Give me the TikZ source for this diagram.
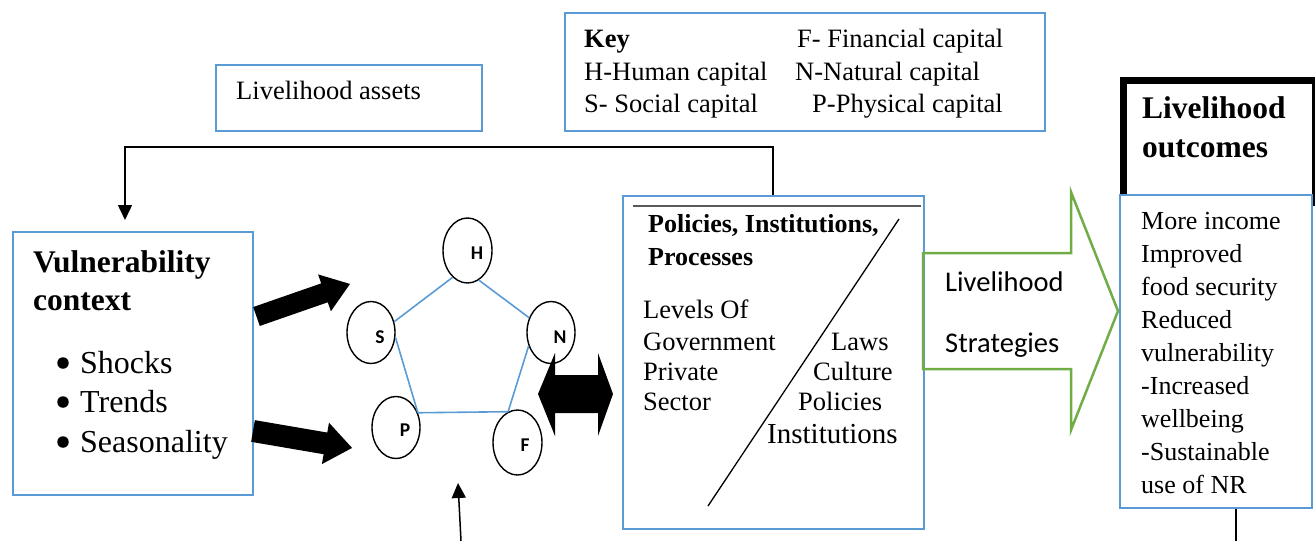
\documentclass[tikz,border=0pt]{standalone}
\usepackage{fontspec}
\setmainfont{Liberation Serif}
\newfontfamily\calibri{Carlito}
\usetikzlibrary{shapes.geometric,arrows.meta}
\definecolor{boxblue}{RGB}{91,155,213}
\definecolor{arrgreen}{RGB}{112,173,71}
\begin{document}
\begin{tikzpicture}[x=1pt,y=-1pt,
  bluebox/.style={draw=boxblue,line width=2pt,fill=white,inner sep=0pt,anchor=north west},
  blackbox/.style={draw=black,line width=7pt,inner sep=0pt,anchor=north west},
  txt/.style={anchor=base west,inner sep=0pt,font=\fontsize{26.5}{30}\selectfont},
  bigbold/.style={anchor=base west,inner sep=0pt,font=\fontsize{31.5}{36}\selectfont\bfseries},
  midbold/.style={anchor=base west,inner sep=0pt,font=\fontsize{26}{30}\selectfont\bfseries},
  bullettxt/.style={anchor=base west,inner sep=0pt,font=\fontsize{32}{36}\selectfont},
  bulletdot/.style={circle,fill=black,inner sep=0pt,minimum size=11.5pt},
  sanstxt/.style={anchor=base west,inner sep=0pt,font=\calibri\fontsize{28.5}{32}\selectfont},
  capnode/.style={draw,ellipse,line width=1.4pt,inner sep=0pt,minimum width=48pt,minimum height=62pt},
  letter/.style={inner sep=0pt,font=\calibri\bfseries\fontsize{19.5}{20}\selectfont},
  pentline/.style={draw=boxblue,line width=1.6pt},
  thinarrow/.style={line width=1.5pt,-{Triangle[length=15pt,width=14pt]}},
  plainline/.style={line width=1.5pt}
]
\useasboundingbox (0,0) rectangle (1315,541);

% boxes
\node[bluebox,minimum width=266pt,minimum height=66pt] (assets) at (215,64) {};
\node[bluebox,minimum width=480pt,minimum height=118pt] (key) at (564,12) {};
\node[bluebox,minimum width=240pt,minimum height=263pt] (vul) at (12,231) {};
\node[bluebox,minimum width=301pt,minimum height=333pt] (pip) at (622,195) {};
\node[blackbox,minimum width=192pt,minimum height=122pt] (title) at (1119.5,76.5) {};
\node[bluebox,minimum width=192pt,minimum height=313pt] (out) at (1119,194) {};

% livelihood assets
\node[txt] (assetstxt) at (236,99) {Livelihood assets};

% key
\node[txt,font=\fontsize{26.5}{30}\selectfont\bfseries] (k0) at (584,47) {Key};
\node[txt] (k1) at (797,47) {F- Financial capital};
\node[txt] (k2) at (584,80) {H-Human capital};
\node[txt] (k3) at (795,80) {N-Natural capital};
\node[txt] (k4) at (584,112) {S- Social capital};
\node[txt] (k5) at (812,112) {P-Physical capital};

% vulnerability
\node[bigbold] (v1) at (33,272) {Vulnerability};
\node[bigbold] (v2) at (33,310) {context};
\foreach \t/\yy [count=\i] in {Shocks/373,Trends/412,Seasonality/452}{
  \node[bulletdot] (vb\i) at (63,\yy-10) {};
  \node[bullettxt] (vt\i) at (80,\yy) {\t};
}

% capitals
\node[capnode,minimum width=49pt,minimum height=65pt] (H) at (467.5,250.5) {};
\node[capnode] (S) at (371,332.5) {};
\node[capnode] (N) at (551,332.5) {};
\node[capnode] (P) at (396,427.5) {};
\node[capnode,minimum width=49pt,minimum height=65pt] (F) at (517.5,442.5) {};
\node[letter] (Hl) at (477,253) {H};
\node[letter] (Sl) at (380,337) {S};
\node[letter] (Nl) at (560,337) {N};
\node[letter] (Pl) at (405,430) {P};
\node[letter] (Fl) at (525,445) {F};
\draw[pentline] (H.241) -- (S.25);
\draw[pentline] (H.291) -- (N.146);
\draw[pentline] (S.349) -- (P.34);
\draw[pentline] (P.34) -- (F.107);
\draw[pentline] (N.211) -- (F.107);

% block arrows from vulnerability
\begin{scope}[shift={(256.5,316.5)},rotate=19.2]
  \fill (0,-10) -- (72,-10) -- (72,-19.5) -- (99,0) -- (72,19.5) -- (72,10) -- (0,10) -- cycle;
\end{scope}
\begin{scope}[shift={(253,431)},rotate=-9.7]
  \fill (0,-11) -- (73.5,-11) -- (73.5,-21) -- (100.5,0) -- (73.5,21) -- (73.5,11) -- (0,11) -- cycle;
\end{scope}

% double block arrow
\fill (538,394) -- (555,353) -- (555,375) -- (598,375) -- (598,353) -- (613,394)
  -- (598,436) -- (598,413) -- (555,413) -- (555,436) -- cycle;

% PIP contents
\draw[draw=black!65,line width=2pt] (633,206) -- (921,206);
\draw[line width=1.3pt] (899,219) -- (708,506);
\node[midbold] (p1) at (648,232) {Policies, Institutions,};
\node[midbold] (p2) at (648,265) {Processes};
\node[txt] (l1) at (643,318) {Levels Of};
\node[txt] (l2) at (643,350) {Government};
\node[txt] (l3) at (643,380) {Private};
\node[txt] (l4) at (643,410) {Sector};
\node[txt] (r1) at (831,350) {Laws};
\node[txt] (r2) at (813,380) {Culture};
\node[txt] (r3) at (798,410) {Policies};
\node[txt,font=\fontsize{29}{32}\selectfont] (r4) at (767,443) {Institutions};

% green strategies arrow
\draw[draw=arrgreen,line width=2.5pt,line join=miter] (923,253) -- (1071,253) -- (1071,192) -- (1118,311)
  -- (1071,430) -- (1071,369) -- (923,369) -- cycle;
\node[sanstxt] (s1) at (945,291) {Livelihood};
\node[sanstxt] (s2) at (945,352) {Strategies};

% outcomes
\node[bigbold] (t1) at (1142,118) {Livelihood};
\node[bigbold] (t2) at (1142,157) {outcomes};
\foreach \t [count=\i] in {More income,Improved,food security,Reduced,vulnerability,-Increased,wellbeing,-Sustainable,use of NR}{
  \node[txt,font=\fontsize{26}{30}\selectfont] (o\i) at (1141,{229+33.1*(\i-1)}) {\t};
}

% connectors
\coordinate (c1) at (773,147);
\coordinate (c2) at (125,147);
\coordinate (c3) at (125,220);
\draw[thinarrow] (pip.north -| c1) -- (c1) -- (c2) -- (c3);
\coordinate (b1) at (461,541);
\coordinate (b2) at (458,483);
\draw[thinarrow] (b1) -- (b2);
\coordinate (d1) at (1236,541);
\draw[plainline] (out.south -| d1) -- (d1);
\end{tikzpicture}
\end{document}
